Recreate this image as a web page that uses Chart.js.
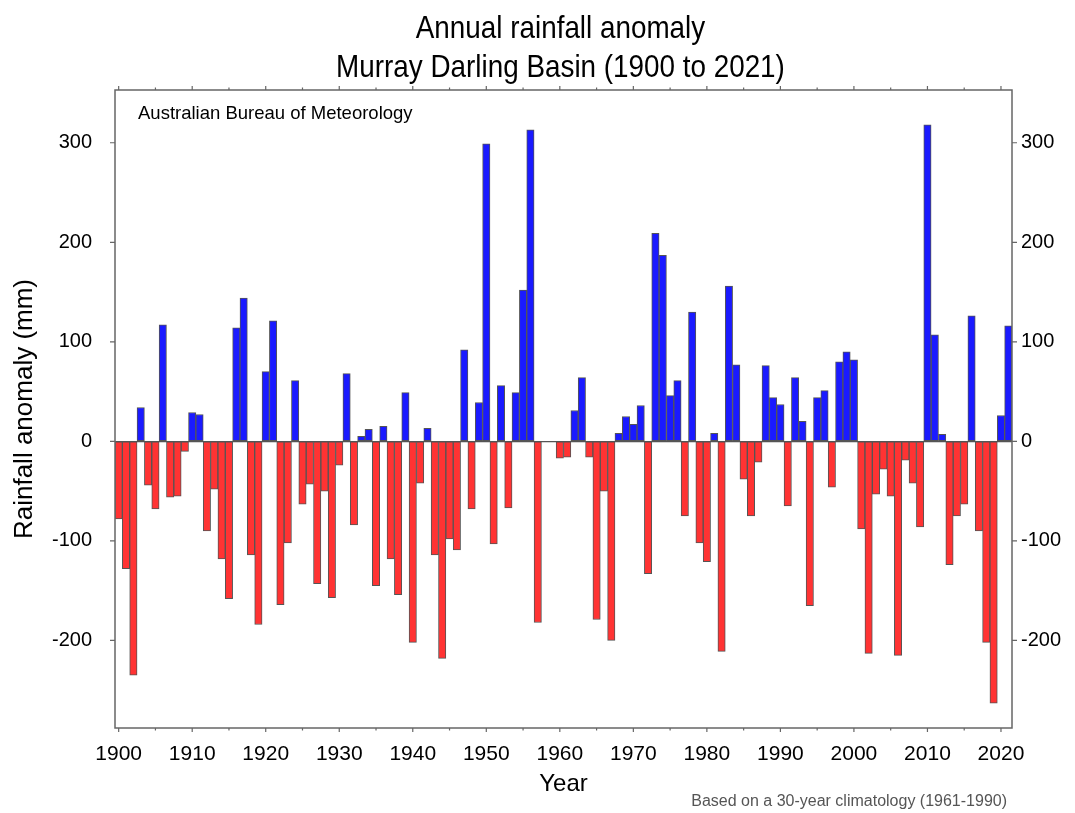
<!DOCTYPE html>
<html>
<head>
<meta charset="utf-8">
<title>Annual rainfall anomaly - Murray Darling Basin</title>
<script src="https://cdn.jsdelivr.net/npm/chart.js@4.4.1/dist/chart.umd.min.js"></script>
<style>
  html, body { margin: 0; padding: 0; background: #fff; }
  #wrap { width: 1075px; height: 813px; }
</style>
</head>
<body>
<div id="wrap"><canvas id="rain-chart" width="1075" height="813"></canvas></div>
<script>
// ============================================
// Annual rainfall anomaly, Murray Darling Basin
// ============================================

// Years on the x axis (one bar each)
const years = [];
for (let yr = 1900; yr <= 2021; yr++) years.push(yr);

// Anomaly in mm, 1900 -> 2021
const anomaly = [
    -78, -128, -235, 34, -44, -68, 117, -56, -55, -10,      // 1900s
    29, 27, -90, -48, -118, -158, 114, 144, -114, -184,     // 1910s
    70, 121, -164, -102, 61, -63, -43, -143, -50, -157,     // 1920s
    -24, 68, -84, 5, 12, -145, 15, -118, -154, 49,          // 1930s
    -202, -42, 13, -114, -218, -98, -109, 92, -68, 39,      // 1940s
    299, -103, 56, -67, 49, 152, 313, -182, 0, 0,           // 1950s
    -17, -16, 31, 64, -16, -179, -50, -200, 8, 25,          // 1960s
    17, 36, -133, 209, 187, 46, 61, -75, 130, -102,         // 1970s
    -121, 8, -211, 156, 77, -38, -75, -21, 76, 44,          // 1980s
    37, -65, 64, 20, -165, 44, 51, -46, 80, 90,             // 1990s
    82, -88, -213, -53, -28, -55, -215, -19, -42, -86,      // 2000s
    318, 107, 7, -124, -75, -63, 126, -90, -202, -263,      // 2010s
    26, 116                                                 // 2020s
];

// Tick labels on both y axes
const yTicks = [-200, -100, 0, 100, 200, 300];

const titleLines = ['Annual rainfall anomaly', 'Murray Darling Basin (1900 to 2021)'];
const sourceText = 'Australian Bureau of Meteorology';
const noteText = 'Based on a 30-year climatology (1961-1990)';

// Colours
const colors = {
    wet: '#1a1aff',
    dry: '#ff3333',
    edge: '#555555',
    frame: '#666666'
};

const SANS = "'Liberation Sans', Arial, Helvetica, sans-serif";

Chart.defaults.font.family = SANS;
Chart.defaults.color = '#000';

// Frame, tick marks, the narrow title and the two loose texts
const frameTicks = {
    id: 'frameTicks',
    afterDatasetsDraw(chart) {
        const { ctx, chartArea: a, scales: { x, y } } = chart;
        ctx.save();
        ctx.strokeStyle = colors.frame;
        ctx.lineWidth = 1.5;
        ctx.strokeRect(a.left, a.top, a.right - a.left, a.bottom - a.top);

        ctx.lineWidth = 1.2;
        ctx.beginPath();
        years.forEach((yr, i) => {
            if (yr % 5) return;
            const px = x.getPixelForValue(i);
            const len = yr % 10 === 0 ? 4 : 2.5;
            ctx.moveTo(px, a.bottom);
            ctx.lineTo(px, a.bottom + len);
            ctx.moveTo(px, a.top);
            ctx.lineTo(px, a.top - len);
        });
        yTicks.forEach(v => {
            const py = y.getPixelForValue(v);
            ctx.moveTo(a.left, py);
            ctx.lineTo(a.left - 5, py);
            ctx.moveTo(a.right, py);
            ctx.lineTo(a.right + 5, py);
        });
        ctx.stroke();

        // title, Arial Narrow look: regular sans squeezed sideways
        const cx = (a.left + a.right) / 2 - 3;
        ctx.fillStyle = '#000';
        ctx.textAlign = 'center';
        ctx.textBaseline = 'alphabetic';
        ctx.font = '32px ' + SANS;
        titleLines.forEach((line, i) => {
            ctx.save();
            ctx.translate(cx, 38 + i * 39);
            ctx.scale(0.87, 1);
            ctx.fillText(line, 0, 0);
            ctx.restore();
        });

        ctx.textBaseline = 'middle';
        ctx.textAlign = 'left';
        ctx.font = '18.5px ' + SANS;
        ctx.fillText(sourceText, a.left + 23, a.top + 24);

        ctx.fillStyle = '#555';
        ctx.textAlign = 'right';
        ctx.font = '16px ' + SANS;
        ctx.fillText(noteText, a.right - 5, chart.height - 11);
        ctx.restore();
    }
};

const ctx = document.getElementById('rain-chart');

new Chart(ctx, {
    type: 'bar',
    data: {
        labels: years.map(String),
        datasets: [{
            label: 'Rainfall anomaly (mm)',
            data: anomaly,
            backgroundColor: anomaly.map(v => (v >= 0 ? colors.wet : colors.dry)),
            borderColor: colors.edge,
            borderWidth: 1,
            borderSkipped: false,
            barPercentage: 1,
            categoryPercentage: 1
        }]
    },
    options: {
        responsive: false,
        animation: false,
        layout: { padding: { top: 90, left: 0, right: 0, bottom: 0 } },
        plugins: {
            legend: { display: false },
            tooltip: { enabled: false }
        },
        scales: {
            x: {
                type: 'category',
                offset: true,
                grid: { display: false, drawTicks: false },
                border: { display: false },
                ticks: {
                    autoSkip: false,
                    maxRotation: 0,
                    padding: 14,
                    font: { size: 21 },
                    color: '#000',
                    callback: (value, index) => (years[index] % 10 === 0 ? String(years[index]) : '')
                },
                title: {
                    display: true,
                    text: 'Year',
                    color: '#000',
                    font: { size: 24 },
                    padding: { top: 0, bottom: 14 }
                },
                afterFit: scale => { scale.height = 85; }
            },
            y: {
                position: 'left',
                min: -288,
                max: 353,
                grid: {
                    drawTicks: false,
                    lineWidth: 1.2,
                    color: c => (c.tick && c.tick.value === 0 ? colors.edge : 'rgba(0,0,0,0)')
                },
                border: { display: false },
                afterBuildTicks: scale => { scale.ticks = yTicks.map(v => ({ value: v })); },
                ticks: { padding: 23, font: { size: 20 }, color: '#000' },
                title: {
                    display: true,
                    text: 'Rainfall anomaly (mm)',
                    color: '#000',
                    font: { size: 26 },
                    padding: { top: 9, bottom: 0 }
                },
                afterFit: scale => { scale.width = 115; }
            },
            y2: {
                position: 'right',
                min: -288,
                max: 353,
                grid: { display: false, drawTicks: false },
                border: { display: false },
                afterBuildTicks: scale => { scale.ticks = yTicks.map(v => ({ value: v })); },
                ticks: { padding: 9, font: { size: 20 }, color: '#000' },
                afterFit: scale => { scale.width = 63; }
            }
        }
    },
    plugins: [frameTicks]
});
</script>
</body>
</html>
